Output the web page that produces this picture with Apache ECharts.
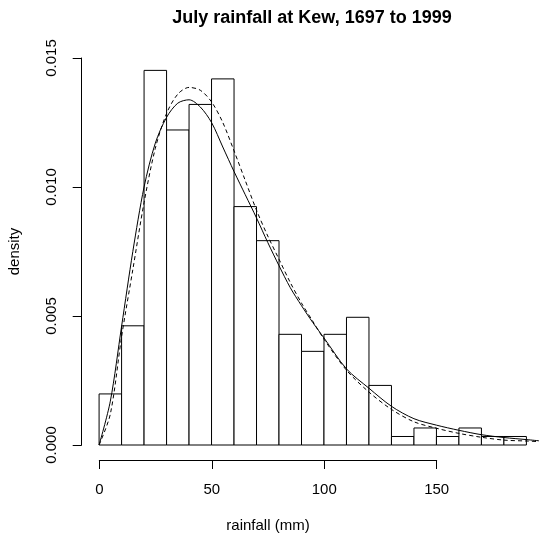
<!DOCTYPE html>
<html>
<head>
<meta charset="utf-8">
<title>July rainfall at Kew</title>
<script src="https://cdn.jsdelivr.net/npm/echarts@6/dist/echarts.min.js"></script>
<style>
  html, body { margin: 0; padding: 0; background: #fff; }
  #chart { width: 539px; height: 536px; }
</style>
</head>
<body>
<div id="chart"></div>
<script>
// histogram bins (mm) and densities
var binStart = [0, 10, 20, 30, 40, 50, 60, 70, 80, 90, 100, 110, 120, 130, 140, 150, 160, 170, 180];
var binEnd = [10, 20, 30, 40, 50, 60, 70, 80, 90, 100, 110, 120, 130, 140, 150, 160, 170, 180, 190];
var binDensity = [0.00198, 0.00462, 0.01452, 0.01221, 0.01320, 0.01419, 0.00924, 0.00792,
  0.00429, 0.00363, 0.00429, 0.00495, 0.00231, 0.00033, 0.00066, 0.00033, 0.00066, 0.00033, 0.00033];

// fitted density curves (solid and dashed), read at these rainfall values
var curveX = [0, 5, 10, 15, 20, 25, 30, 35, 40, 45, 50, 55, 60, 65, 70, 75, 80, 85, 90, 95, 100,
  110, 120, 130, 140, 150, 160, 170, 180, 190, 196];
var solidY = [0, 0.0017, 0.0046, 0.0075, 0.0100, 0.0117, 0.0127, 0.01325, 0.01338, 0.0131, 0.0125,
  0.01155, 0.0106, 0.0097, 0.0088, 0.00785, 0.00695, 0.0061, 0.0054, 0.00475, 0.00415,
  0.00295, 0.0022, 0.0015, 0.00102, 0.00077, 0.00057, 0.00040, 0.00029, 0.00021, 0.00016];
var dashedY = [0, 0.0012, 0.0042, 0.0068, 0.0094, 0.0115, 0.01285, 0.0136, 0.01386, 0.01375, 0.0133,
  0.0125, 0.0114, 0.01025, 0.0091, 0.0081, 0.0072, 0.0063, 0.0055, 0.0048, 0.0041,
  0.0029, 0.00205, 0.00138, 0.0009, 0.00065, 0.00045, 0.0003, 0.00019, 0.000155, 0.00013];

// axis ticks
var xTicks = [0, 50, 100, 150];
var yTicks = [0, 0.005, 0.010, 0.015];

var font = "'Liberation Sans', Arial, Helvetica, sans-serif";

var histData = binStart.map(function (s, i) { return [s, binEnd[i], binDensity[i]]; });
var solidData = curveX.map(function (x, i) { return [x, solidY[i]]; });
var dashedData = curveX.map(function (x, i) { return [x, dashedY[i]]; });

var chart = echarts.init(document.getElementById('chart'));
var option = {
  animation: false,
  backgroundColor: '#fff',
  title: {
    text: 'July rainfall at Kew, 1697 to 1999',
    left: 307,
    top: 4,
    textAlign: 'center',
    textStyle: { fontFamily: font, fontSize: 18, fontWeight: 'bold', color: '#000' }
  },
  grid: [
    // plot region
    { left: 82, right: 0, top: 55, bottom: 76 },
    // detached x axis
    { left: 99.3, width: 337.4, top: 459, height: 1 },
    // detached y axis
    { left: 81.7, width: 1, top: 58, height: 387 }
  ],
  xAxis: [
    {
      gridIndex: 0, type: 'value', min: -7.6, max: 195.6, show: false
    },
    {
      gridIndex: 1, type: 'value', min: 0, max: 150, interval: 50,
      position: 'bottom',
      name: 'rainfall (mm)',
      nameLocation: 'middle',
      nameGap: 58,
      nameTextStyle: { fontFamily: font, fontSize: 15, color: '#000' },
      axisLine: { show: true, lineStyle: { color: '#000', width: 1 } },
      axisTick: { show: true, inside: false, length: 9, lineStyle: { color: '#000' },
        customValues: xTicks },
      axisLabel: { fontFamily: font, fontSize: 15, color: '#000', margin: 22,
        customValues: xTicks },
      splitLine: { show: false }
    },
    {
      gridIndex: 2, type: 'value', show: false
    }
  ],
  yAxis: [
    {
      gridIndex: 0, type: 'value', min: -0.000581, max: 0.015116, show: false
    },
    {
      gridIndex: 1, type: 'value', show: false
    },
    {
      gridIndex: 2, type: 'value', min: 0, max: 0.015, interval: 0.005,
      position: 'left',
      name: 'density',
      nameLocation: 'middle',
      nameGap: 59,
      nameTextStyle: { fontFamily: font, fontSize: 15, color: '#000' },
      axisLine: { show: true, lineStyle: { color: '#000', width: 1 } },
      axisTick: { show: true, inside: false, length: 9, lineStyle: { color: '#000' },
        customValues: yTicks },
      axisLabel: {
        fontFamily: font, fontSize: 15, color: '#000', margin: 22, rotate: 90,
        customValues: yTicks,
        formatter: function (v) { return v.toFixed(3); }
      },
      splitLine: { show: false }
    }
  ],
  series: [
    {
      name: 'histogram',
      type: 'custom',
      xAxisIndex: 0,
      yAxisIndex: 0,
      data: histData,
      renderItem: function (params, api) {
        var p0 = api.coord([api.value(0), api.value(2)]);
        var p1 = api.coord([api.value(1), 0]);
        return {
          type: 'rect',
          shape: { x: p0[0], y: p0[1], width: p1[0] - p0[0], height: p1[1] - p0[1] },
          style: { fill: '#fff', stroke: '#000', lineWidth: 1 }
        };
      },
      z: 1
    },
    {
      name: 'solid',
      type: 'line',
      xAxisIndex: 0,
      yAxisIndex: 0,
      data: solidData,
      smooth: 0.3,
      showSymbol: false,
      lineStyle: { color: '#000', width: 1 },
      z: 3
    },
    {
      name: 'dashed',
      type: 'line',
      xAxisIndex: 0,
      yAxisIndex: 0,
      data: dashedData,
      smooth: 0.3,
      showSymbol: false,
      lineStyle: { color: '#000', width: 1, type: [4, 3] },
      z: 2
    }
  ]
};
chart.setOption(option);
</script>
</body>
</html>
